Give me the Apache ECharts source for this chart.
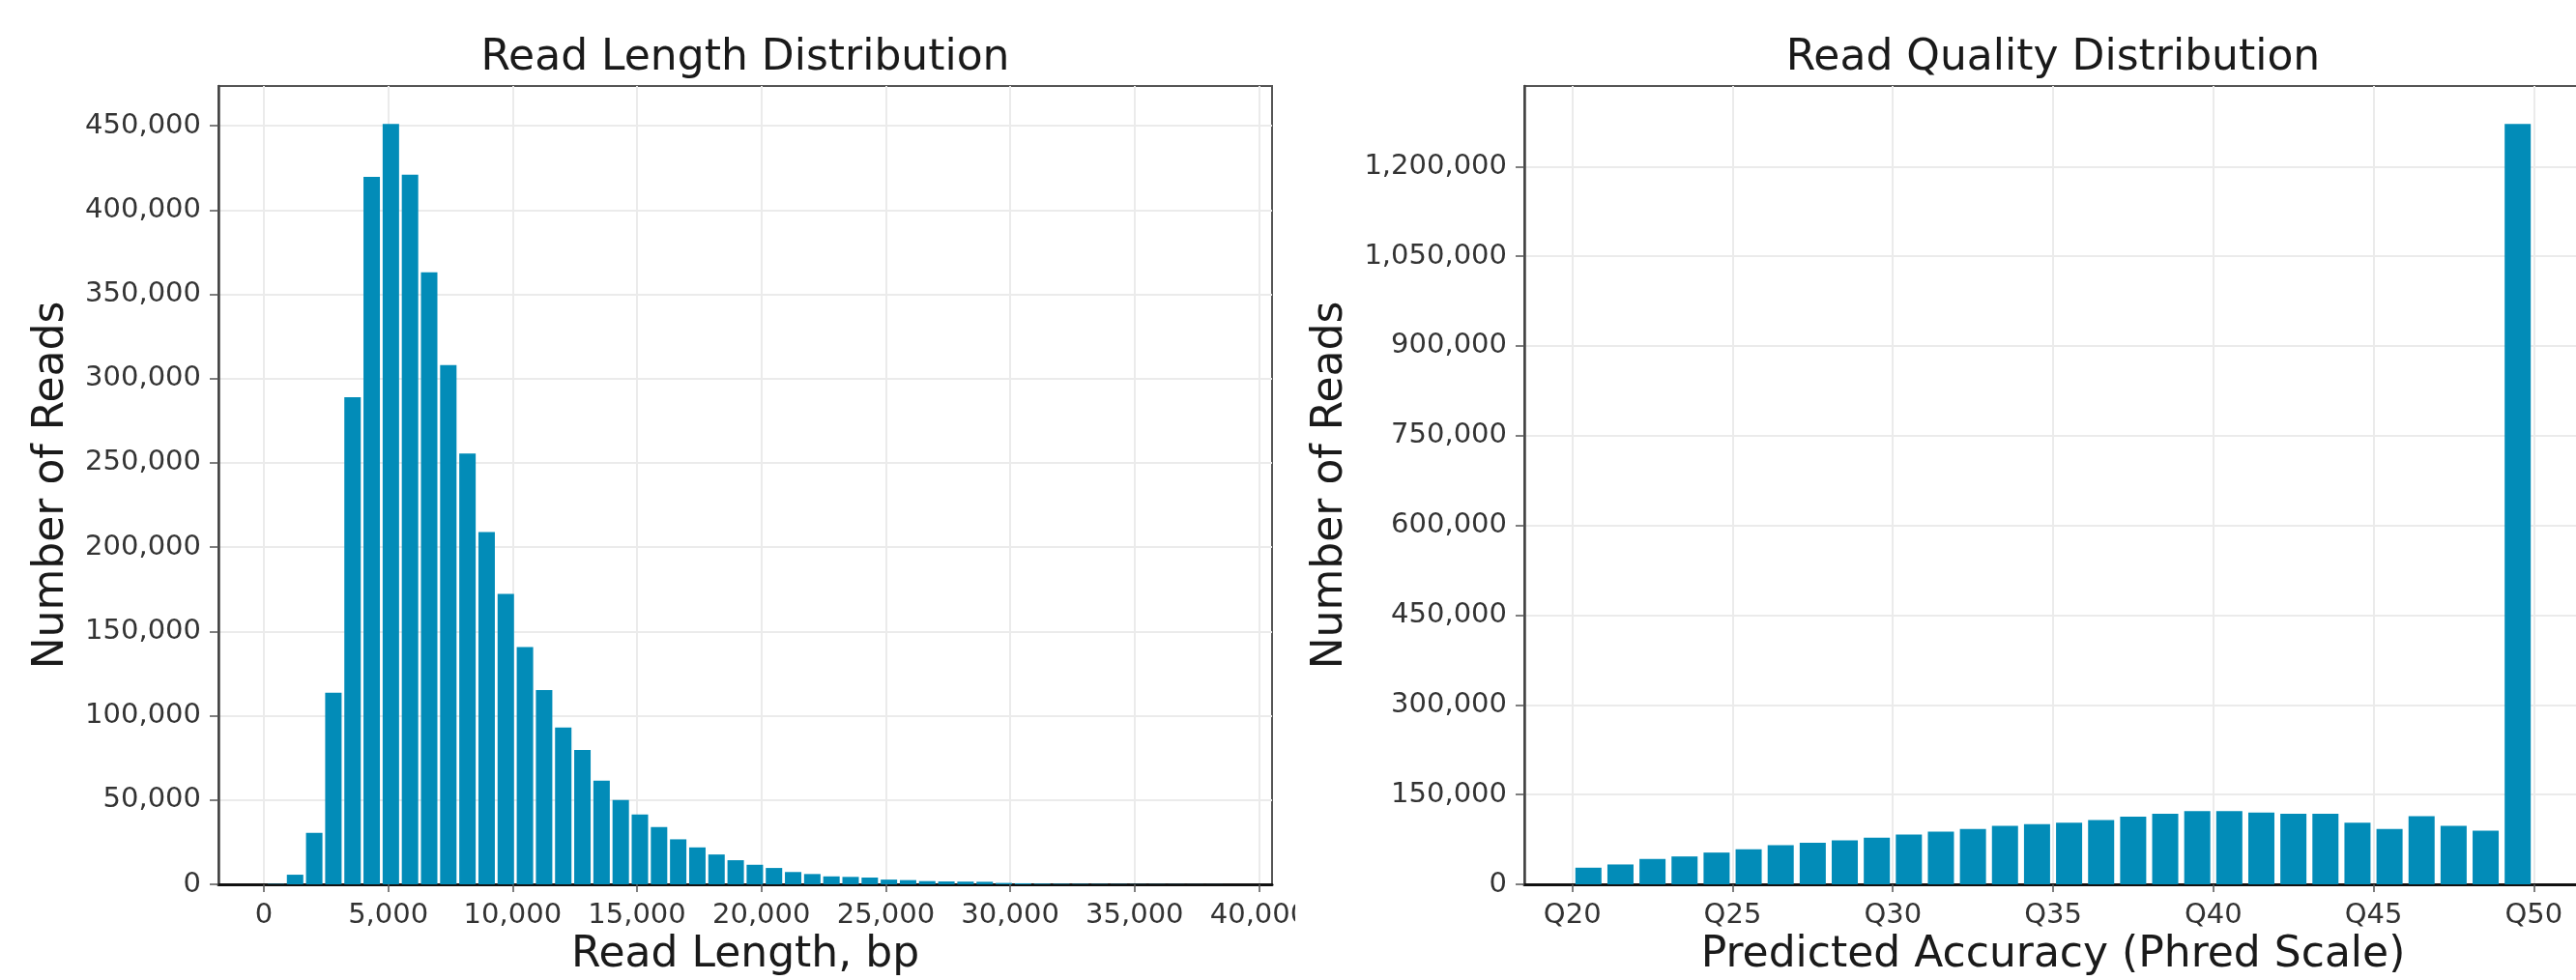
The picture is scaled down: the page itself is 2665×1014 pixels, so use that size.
<!DOCTYPE html>
<html>
<head>
<meta charset="utf-8">
<script src="https://cdn.jsdelivr.net/npm/echarts@6/dist/echarts.min.js"></script>
<style>
  html, body { margin: 0; padding: 0; background: #fff; }
  #wrap { position: relative; width: 2665px; height: 1014px; overflow: hidden; }
  #left { position: absolute; left: 0; top: 0; width: 1340px; height: 1014px; }
  #right { position: absolute; left: 1340px; top: 0; width: 1325px; height: 1014px; }
</style>
</head>
<body>
<div id="wrap"><div id="left"></div><div id="right"></div></div>
<script>
// ---- Read length histogram (50 bins) ----
const lengthBinStart = 100;
const lengthBinWidth = 770;
const lengthCounts = [
    200, 5700, 30500, 113600, 289000, 419700, 451000, 421000, 363000, 308000,
    255600, 209000, 172300, 140800, 115200, 93000, 79700, 61500, 50000, 41400,
    34000, 26700, 21900, 17700, 14300, 11600, 9700, 7300, 6100, 4700,
    4400, 4000, 2800, 2500, 1900, 1700, 1600, 1500, 800, 600,
    400, 300, 250, 200, 150, 100, 100, 80, 60, 50
];
const lengthTicks = [0, 5000, 10000, 15000, 20000, 25000, 30000, 35000, 40000];
const lengthYTicks = [0, 50000, 100000, 150000, 200000, 250000, 300000, 350000, 400000, 450000];

// ---- Read quality histogram (bins Q20..Q49, width 1) ----
const qualityBinStart = [20, 21, 22, 23, 24, 25, 26, 27, 28, 29, 30, 31, 32, 33, 34,
    35, 36, 37, 38, 39, 40, 41, 42, 43, 44, 45, 46, 47, 48, 49];
const qualityCounts = [
    27800, 33200, 42400, 46600, 53100, 58600, 65500, 69300, 73600, 78000,
    83300, 88200, 92500, 97900, 100500, 103200, 107600, 113000, 117800, 122200,
    122200, 120000, 117800, 117800, 103200, 92500, 114000, 97900, 89800, 1271000
];
const qualityTicks = [20, 25, 30, 35, 40, 45, 50];
const qualityYTicks = [0, 150000, 300000, 450000, 600000, 750000, 900000, 1050000, 1200000];

const FONT = 'DejaVu Sans';
const BAR = '#028cb8';
const fmt = v => String(Math.round(v)).replace(/\B(?=(\d{3})+(?!\d))/g, ',');

function histOption(cfg) {
    return {
        animation: false,
        title: {
            text: cfg.title, left: cfg.titleX, top: 61, padding: 0,
            textAlign: 'center', textVerticalAlign: 'middle',
            textStyle: { fontFamily: FONT, fontSize: 44, fontWeight: 'normal', color: '#1a1a1a' }
        },
        grid: {
            left: cfg.gridLeft, right: cfg.gridRight, top: 89, bottom: 99,
            outerBoundsMode: 'none', containLabel: false,
            show: true, borderColor: '#555', borderWidth: 2, backgroundColor: '#fff'
        },
        xAxis: {
            type: 'value', min: cfg.xMin, max: cfg.xMax,
            name: cfg.xName, nameLocation: 'middle', nameGap: 52,
            nameTextStyle: { fontFamily: FONT, fontSize: 44, color: '#1a1a1a' },
            axisLine: { show: true, onZero: false, lineStyle: { color: '#111', width: 3 } },
            axisTick: { show: true, length: 8, customValues: cfg.xTicks, lineStyle: { color: '#555', width: 1.5 } },
            axisLabel: {
                customValues: cfg.xTicks, formatter: cfg.xFmt, margin: 18, hideOverlap: false,
                fontFamily: FONT, fontSize: 29, color: '#333'
            },
            splitLine: { show: true, customValues: cfg.xTicks, lineStyle: { color: '#ebebeb', width: 2 } }
        },
        yAxis: {
            type: 'value', min: 0, max: cfg.yMax,
            name: 'Number of Reads', nameLocation: 'middle', nameGap: cfg.yNameGap, nameRotate: 90,
            nameTextStyle: { fontFamily: FONT, fontSize: 44, color: '#1a1a1a' },
            axisLine: { show: true, onZero: false, lineStyle: { color: '#444', width: 2.5 } },
            axisTick: { show: true, length: 9, customValues: cfg.yTicks, lineStyle: { color: '#555', width: 1.5 } },
            axisLabel: {
                customValues: cfg.yTicks, formatter: fmt, margin: 18,
                fontFamily: FONT, fontSize: 29, color: '#333'
            },
            splitLine: { show: true, customValues: cfg.yTicks, lineStyle: { color: '#ebebeb', width: 2 } }
        },
        series: [{
            type: 'bar',
            data: cfg.data,
            barWidth: cfg.barWidth,
            itemStyle: { color: BAR },
            silent: true
        }]
    };
}

const leftChart = echarts.init(document.getElementById('left'));
leftChart.setOption(histOption({
    title: 'Read Length Distribution', titleX: 771,
    gridLeft: 226, gridRight: 24,
    xMin: -1825, xMax: 40525, xTicks: lengthTicks, xFmt: fmt,
    xName: 'Read Length, bp',
    yMax: 473550, yTicks: lengthYTicks, yNameGap: 150,
    barWidth: 17,
    data: lengthCounts.map((c, i) => [lengthBinStart + lengthBinWidth * (i + 0.5), c])
}));

const rightChart = echarts.init(document.getElementById('right'));
rightChart.setOption(histOption({
    title: 'Read Quality Distribution', titleX: 784,
    gridLeft: 237, gridRight: -6,
    xMin: 18.5, xMax: 51.5, xTicks: qualityTicks, xFmt: v => 'Q' + v,
    xName: 'Predicted Accuracy (Phred Scale)',
    yMax: 1334550, yTicks: qualityYTicks, yNameGap: 178,
    barWidth: 27,
    data: qualityCounts.map((c, i) => [qualityBinStart[i] + 0.5, c])
}));
</script>
</body>
</html>
